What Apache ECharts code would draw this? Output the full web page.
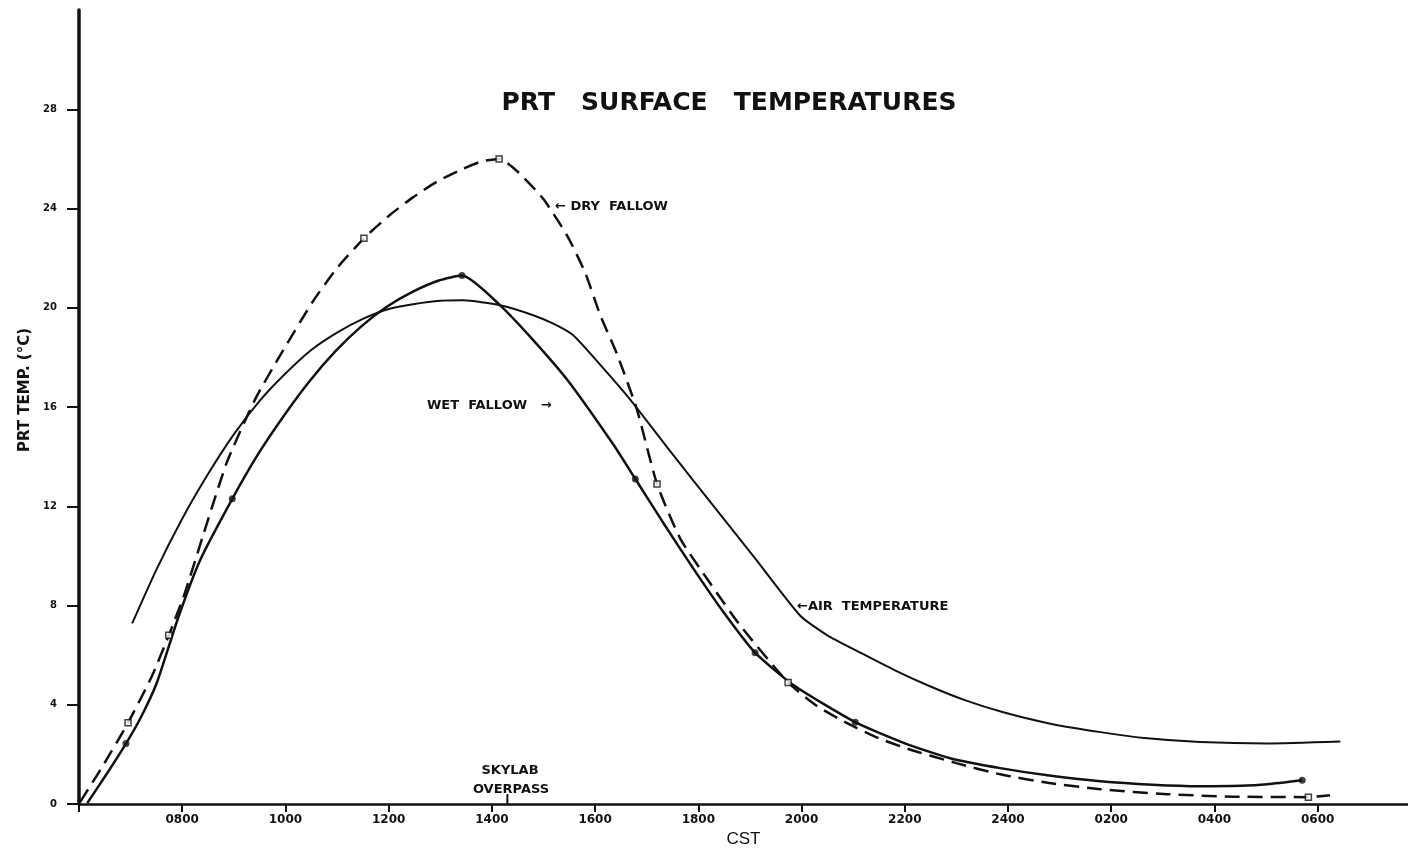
<!DOCTYPE html>
<html>
<head>
<meta charset="utf-8">
<script src="https://cdn.jsdelivr.net/npm/echarts@6/dist/echarts.min.js"></script>
<style>
html,body{margin:0;padding:0;background:#fff;}
#chart{width:1408px;height:853px;}
</style>
</head>
<body>
<div id="chart"></div>
<script>
// Hours since 0000 of day 1 (values > 24 are the following morning)
const xTicks = [6, 8, 10, 12, 14, 16, 18, 20, 22, 24, 26, 28, 30];
const xTickLabels = ['', '0800','1000','1200','1400','1600','1800','2000','2200','2400','0200','0400','0600'];
const yTicks = [0, 4, 8, 12, 16, 20, 24, 28];

// Dry fallow (dashed curve)
const dryFallow = [
  [6.02,0.08],[6.45,1.5],[6.95,3.28],[7.4,5.1],[7.74,6.8],[8.05,8.5],[8.4,10.8],
  [8.87,13.8],[9.41,16.3],[9.86,17.95],[10.53,20.25],[11.0,21.6],[11.52,22.8],[12.0,23.7],
  [12.47,24.45],[12.95,25.1],[13.44,25.6],[13.8,25.9],[14.14,26.0],[14.49,25.5],[14.99,24.4],
  [15.46,22.9],[15.81,21.4],[16.1,19.7],[16.43,18.1],[16.81,15.9],[17.2,12.9],[17.65,10.7],
  [18.23,8.9],[18.81,7.2],[19.74,4.9],[20.3,3.95],[20.94,3.2],[21.5,2.65],[22.1,2.2],
  [23.0,1.65],[23.85,1.2],[24.8,0.85],[25.79,0.6],[27.09,0.4],[28.36,0.3],[29.82,0.28],[30.24,0.36]
];
const drySquares = [[6.95,3.28],[7.74,6.8],[11.52,22.8],[14.14,26.0],[17.2,12.9],[19.74,4.9],[29.82,0.28]];

// Wet fallow (solid curve)
const wetFallow = [
  [6.16,0.04],[6.5,1.1],[6.91,2.44],[7.2,3.5],[7.51,4.9],[7.92,7.5],[8.34,9.8],[8.97,12.3],
  [9.47,14.1],[9.97,15.65],[10.47,17.05],[10.97,18.25],[11.47,19.25],[11.97,20.05],
  [12.47,20.65],[12.97,21.1],[13.42,21.3],[14.16,20.1],[14.8,18.7],[15.46,17.1],
  [16.35,14.5],[16.78,13.1],[17.3,11.4],[17.9,9.5],[18.5,7.7],[19.1,6.1],[19.84,4.8],
  [21.04,3.3],[22.0,2.45],[22.88,1.85],[23.85,1.45],[24.8,1.15],[25.79,0.92],
  [26.8,0.78],[27.72,0.72],[28.5,0.74],[29.02,0.8],[29.7,0.96]
];
const wetDots = [[6.91,2.44],[8.97,12.3],[13.42,21.3],[16.78,13.1],[19.1,6.1],[21.04,3.3],[29.7,0.96]];

// Air temperature (solid curve)
const airTemp = [
  [7.03,7.28],[7.5,9.45],[8.0,11.5],[8.5,13.3],[9.0,14.9],[9.5,16.25],[10.0,17.35],
  [10.5,18.3],[11.0,19.0],[11.5,19.55],[12.0,19.95],[12.5,20.15],[13.0,20.28],[13.44,20.3],
  [14.16,20.1],[14.8,19.7],[15.2,19.35],[15.57,18.9],[16.1,17.7],[16.68,16.3],[17.5,14.1],
  [18.3,12.0],[19.1,9.9],[19.97,7.6],[20.5,6.8],[21.14,6.1],[21.8,5.4],[22.43,4.8],
  [23.15,4.2],[23.91,3.7],[24.8,3.25],[25.79,2.9],[26.7,2.65],[27.72,2.5],[29.02,2.44],[30.44,2.52]
];

const skylabOverpass = 14.3;

const chart = echarts.init(document.getElementById('chart'));
const ink = '#111';
const font = '"DejaVu Sans", "Liberation Sans", sans-serif';

chart.setOption({
  backgroundColor: '#fff',
  animation: false,
  grid: { left: 79, right: 0, top: 10, bottom: 43, containLabel: false },
  xAxis: {
    type: 'value', min: 6, max: 31.75,
    name: 'CST', nameLocation: 'middle', nameGap: 25,
    nameTextStyle: { color: ink, fontSize: 17, fontFamily: '"Liberation Sans", sans-serif' },
    axisLine: { show: true, onZero: false, lineStyle: { color: ink, width: 2.5 } },
    axisTick: { show: true, length: 8, customValues: xTicks, lineStyle: { color: ink, width: 2 } },
    splitLine: { show: false },
    axisLabel: {
      margin: 10, color: ink, fontSize: 12, fontWeight: 'bold', fontFamily: font,
      customValues: xTicks,
      formatter: v => { const i = xTicks.indexOf(v); return i >= 0 ? xTickLabels[i] : ''; }
    }
  },
  yAxis: {
    type: 'value', min: 0, max: 32,
    axisLine: { show: true, lineStyle: { color: ink, width: 3.5 } },
    axisTick: { show: true, length: 12, customValues: yTicks, lineStyle: { color: ink, width: 2 } },
    splitLine: { show: false },
    axisLabel: {
      margin: 22, color: ink, fontSize: 10, fontWeight: 'bold', fontFamily: font,
      customValues: yTicks,
      formatter: v => String(v)
    }
  },
  series: [
    { name: 'Dry fallow', type: 'line', data: dryFallow, smooth: 0.2, symbol: 'none',
      lineStyle: { color: ink, width: 2.5, type: [15, 8] }, z: 3 },
    { name: 'Wet fallow', type: 'line', data: wetFallow, smooth: 0.2, symbol: 'none',
      lineStyle: { color: ink, width: 2.5 }, z: 3 },
    { name: 'Air temperature', type: 'line', data: airTemp, smooth: 0.2, symbol: 'none',
      lineStyle: { color: ink, width: 2 }, z: 3 },
    { name: 'Dry fallow points', type: 'scatter', data: drySquares, symbol: 'rect', symbolSize: 6,
      itemStyle: { color: '#fff', borderColor: ink, borderWidth: 1.5 }, z: 5 },
    { name: 'Wet fallow points', type: 'scatter', data: wetDots, symbol: 'circle', symbolSize: 7,
      itemStyle: { color: ink }, z: 5 }
  ],
  graphic: [
    { type: 'text', x: 729, y: 103, style: { text: 'PRT   SURFACE   TEMPERATURES', fill: ink,
      fontSize: 25, fontWeight: 'bold', fontFamily: font, align: 'center', verticalAlign: 'middle' } },
    { type: 'text', x: 25, y: 390, rotation: Math.PI / 2, style: { text: 'PRT TEMP. (°C)', fill: ink,
      fontSize: 15, fontWeight: 'bold', fontFamily: font, align: 'center', verticalAlign: 'middle' } },
    { type: 'text', x: 555, y: 207, style: { text: '← DRY  FALLOW', fill: ink,
      fontSize: 13, fontWeight: 'bold', fontFamily: font, align: 'left', verticalAlign: 'middle' } },
    { type: 'text', x: 427, y: 406, style: { text: 'WET  FALLOW   →', fill: ink,
      fontSize: 13, fontWeight: 'bold', fontFamily: font, align: 'left', verticalAlign: 'middle' } },
    { type: 'text', x: 797, y: 607, style: { text: '←AIR  TEMPERATURE', fill: ink,
      fontSize: 13, fontWeight: 'bold', fontFamily: font, align: 'left', verticalAlign: 'middle' } },
    { type: 'text', x: 510, y: 771, style: { text: 'SKYLAB', fill: ink,
      fontSize: 13, fontWeight: 'bold', fontFamily: font, align: 'center', verticalAlign: 'middle' } },
    { type: 'text', x: 511, y: 790, style: { text: 'OVERPASS', fill: ink,
      fontSize: 13, fontWeight: 'bold', fontFamily: font, align: 'center', verticalAlign: 'middle' } }
  ]
});

// Skylab overpass tick mark, placed through the axis scale
const px = chart.convertToPixel({ gridIndex: 0 }, [skylabOverpass, 0]);
chart.setOption({ graphic: [
  {}, {}, {}, {}, {}, {}, {},
  { type: 'line', shape: { x1: px[0], y1: px[1] - 10, x2: px[0], y2: px[1] }, style: { stroke: ink, lineWidth: 2 } }
] });
</script>
</body>
</html>
